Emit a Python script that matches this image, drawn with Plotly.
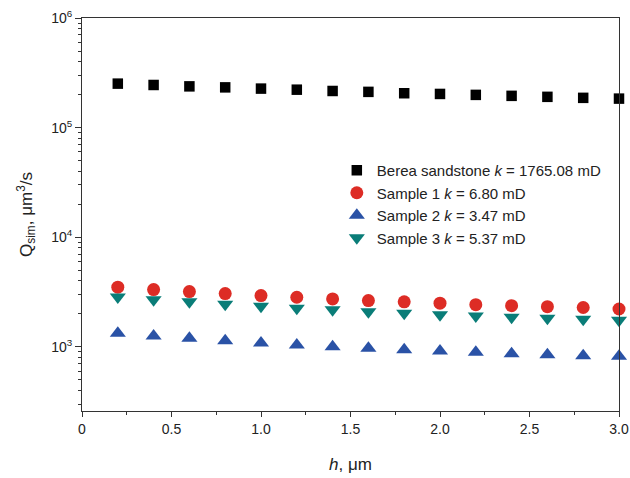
import plotly.graph_objects as go

h = [0.2, 0.4, 0.6, 0.8, 1.0, 1.2, 1.4, 1.6, 1.8, 2.0, 2.2, 2.4, 2.6, 2.8, 3.0]
berea = [252000, 245000, 238000, 233000, 227000, 222000, 216000, 212000, 206000, 203000, 199000, 195000, 191000, 187000, 184000]
sample1 = [3510, 3340, 3200, 3070, 2940, 2840, 2740, 2650, 2580, 2510, 2430, 2380, 2330, 2290, 2220]
sample2 = [1334, 1260, 1200, 1142, 1088, 1043, 1006, 973, 945, 920, 895, 869, 851, 833, 823]
sample3 = [2860, 2700, 2580, 2450, 2350, 2260, 2180, 2100, 2030, 1970, 1920, 1870, 1830, 1790, 1750]

names = ["Berea sandstone <i>k</i> = 1765.08 mD", "Sample 1 <i>k</i> = 6.80 mD",
         "Sample 2 <i>k</i> = 3.47 mD", "Sample 3 <i>k</i> = 5.37 mD"]
y_tickvals = [1e3, 1e4, 1e5, 1e6]
y_ticktext = ["10<sup>3</sup>", "10<sup>4</sup>", "10<sup>5</sup>", "10<sup>6</sup>"]
x_tickvals = [0, 0.5, 1.0, 1.5, 2.0, 2.5, 3.0]
x_ticktext = ["0", "0.5", "1.0", "1.5", "2.0", "2.5", "3.0"]

series = [
    (berea, names[0], "square", "#000000", 10.5),
    (sample1, names[1], "circle", "#dd2c25", 13),
    (sample2, names[2], "triangle-up", "#2a52a6", 14),
    (sample3, names[3], "triangle-down", "#0a7d78", 14),
]

fig = go.Figure()
for ys, nm, sym, col, sz in series:
    fig.add_trace(go.Scatter(x=h, y=ys, mode="markers", name=nm,
                             marker=dict(symbol=sym, color=col, size=sz, line=dict(width=0)),
                             cliponaxis=False))

minor_y = [m * 10 ** e for e in range(2, 6) for m in range(2, 10) if 260 <= m * 10 ** e <= 1e6]

font = "Arial, Liberation Sans, sans-serif"
fig.update_layout(
    width=630, height=478,
    margin=dict(l=82, r=11, t=18, b=67),
    paper_bgcolor="white", plot_bgcolor="white",
    font=dict(family=font, size=14, color="#222222"),
    showlegend=True,
    legend=dict(x=0.4745, y=0.654, xanchor="left", yanchor="top",
                bgcolor="rgba(0,0,0,0)", font=dict(size=15, family=font, color="#222222"),
                itemsizing="trace", tracegroupgap=0),
    xaxis=dict(range=[0, 3.0], tickmode="array", tickvals=x_tickvals, ticktext=x_ticktext,
               ticks="outside", ticklen=5, tickcolor="#333", showline=True, linecolor="#333",
               linewidth=1, mirror=True, showgrid=False, zeroline=False, automargin=False,
               minor=dict(tickmode="array", tickvals=[0.25, 0.75, 1.25, 1.75, 2.25, 2.75],
                          ticks="outside", ticklen=3, tickcolor="#333", showgrid=False),
               title=dict(text="<i>h</i>, μm", font=dict(size=17, family=font), standoff=22),
               tickfont=dict(size=14)),
    yaxis=dict(type="log", range=[2.416, 6.0], tickmode="array", tickvals=y_tickvals,
               ticktext=y_ticktext, ticks="outside", ticklen=6, tickcolor="#333",
               showline=True, linecolor="#333", linewidth=1, mirror=True, showgrid=False,
               zeroline=False, automargin=False,
               minor=dict(tickmode="array", tickvals=minor_y, ticks="outside", ticklen=3,
                          tickcolor="#333", showgrid=False),
               title=dict(text="Q<sub>sim</sub>, μm<sup>3</sup>/s", font=dict(size=17, family=font),
                          standoff=14),
               tickfont=dict(size=14)),
)

fig.write_html("out.html", config={"displayModeBar": False},
               post_script="document.body.style.margin='0px';document.body.style.overflow='hidden';")
